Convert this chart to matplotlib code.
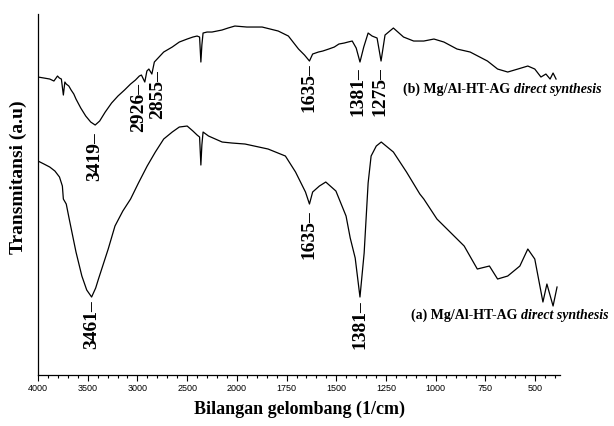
import matplotlib
matplotlib.use('Agg')
import matplotlib.pyplot as plt
import numpy as np

# spectrum (b): wavenumber (1/cm) and transmittance (a.u)
wn_b = [4000, 3940, 3882, 3840, 3804, 3785, 3765, 3745, 3730, 3716, 3690, 3667,
        3640, 3618, 3570, 3520, 3470, 3425, 3380, 3324, 3260, 3196, 3130, 3069,
        3020, 2981, 2960, 2926, 2905, 2885, 2855, 2830, 2736, 2650, 2579, 2500,
        2442, 2400, 2375, 2362, 2352, 2340, 2300, 2250, 2150, 2089, 2020,
        1950, 1873, 1792, 1741, 1690, 1660, 1635, 1619, 1590, 1568, 1538, 1510,
        1487, 1460, 1441, 1420, 1400, 1381, 1362, 1340, 1320, 1295, 1275, 1255,
        1213, 1162, 1111, 1060, 1009, 959, 893, 827, 740, 689, 638, 587, 537,
        502, 471, 446, 425, 410, 395]
tr_b = [301, 300, 299, 297, 302, 300, 299, 283, 296, 294, 292, 288,
        284, 279, 270, 262, 256, 253, 257, 266, 275, 282, 288, 294,
        298, 302, 303, 296, 307, 309, 304, 316, 326, 331, 336, 339,
        341, 342, 341, 316, 333, 345, 346, 346, 348, 350, 352,
        351, 351, 347, 342, 329, 323, 317, 324, 326, 327, 329, 331,
        334, 335, 336, 337, 330, 316, 331, 345, 342, 340, 317, 343,
        350, 341, 337, 337, 339, 336, 329, 326, 317, 309, 306, 309, 312,
        309, 301, 304, 299, 305, 299]

# spectrum (a)
wn_a = [4000, 3940, 3882, 3830, 3784, 3755, 3745, 3716, 3686, 3618, 3559, 3510,
        3461, 3420, 3392, 3294, 3226, 3147, 3069, 2990, 2902, 2820, 2736, 2650,
        2579, 2500, 2442, 2400, 2375, 2362, 2352, 2340, 2285, 2148, 2050,
        1959, 1843, 1756, 1705, 1655, 1635, 1619, 1585, 1553, 1502, 1451, 1430,
        1405, 1381, 1360, 1340, 1325, 1299, 1274, 1213, 1147, 1080, 1060, 994,
        928, 857, 791, 730, 689, 638, 577, 537, 502, 461, 441, 410, 390]
tr_a = [217, 214, 211, 207, 201, 192, 179, 174, 159, 126, 102, 88,
        81, 90, 99, 129, 152, 167, 179, 195, 212, 226, 239, 246,
        251, 252, 247, 243, 241, 213, 233, 246, 242, 236, 235,
        234, 229, 222, 206, 186, 174, 186, 192, 196, 187, 162, 140,
        120, 81, 125, 195, 222, 232, 236, 226, 206, 184, 179, 159,
        146, 132, 109, 112, 99, 102, 112, 129, 119, 76, 94, 72, 91]

major_ticks = [4000, 3500, 3000, 2500, 2000, 1750, 1500, 1250, 1000, 750, 500]

# peak labels: text, anchor wavenumber, anchor height (top of label)
peaks_b = [('3419', 3425, 247), ('2926', 2990, 296), ('2855', 2800, 309),
           ('1635', 1640, 316), ('1381', 1390, 312), ('1275', 1280, 312)]
peaks_a = [('3461', 3461, 79), ('1635', 1640, 169), ('1381', 1381, 79)]


def forward(w):
    w = np.asarray(w, dtype=float)
    return np.where(w >= 2000, w / 500.0, w / 250.0 - 4.0)


def inverse(u):
    u = np.asarray(u, dtype=float)
    return np.where(u >= 4, u * 500.0, (u + 4.0) * 250.0)


serif = 'Liberation Serif'

fig = plt.figure(figsize=(6.14, 4.27), dpi=100)
ax = fig.add_axes([0.0619, 0.1194, 0.8502, 0.8454])
ax.set_xscale('function', functions=(forward, inverse))

ax.plot(wn_b, tr_b, color='black', lw=0.9)
ax.plot(wn_a, tr_a, color='black', lw=0.9)

ax.set_xlim(4000, 375)
ax.set_ylim(3, 364)

ax.set_xticks(major_ticks)
ax.set_xticklabels([str(t) for t in major_ticks], fontsize=6.5,
                   family='Liberation Sans')
minor = list(range(3900, 2000, -100)) + list(range(1950, 399, -50))
ax.set_xticks([m for m in minor if m not in major_ticks], minor=True)
ax.tick_params(axis='x', which='major', direction='out', length=4,
               width=0.8, pad=1.5)
ax.tick_params(axis='x', which='minor', direction='out', length=2.5,
               width=0.8)
ax.set_yticks([])
for s in ['top', 'right']:
    ax.spines[s].set_visible(False)
ax.spines['left'].set_linewidth(0.9)
ax.spines['bottom'].set_linewidth(0.9)

ax.set_xlabel('Bilangan gelombang (1/cm)', family=serif, fontweight='bold',
              fontsize=13, labelpad=6)
ax.set_ylabel('Transmitansi (a.u)', family=serif, fontweight='bold',
              fontsize=14)
ax.yaxis.set_label_coords(-0.022, 0.55)

for txt, w, h in peaks_b + peaks_a:
    ax.text(w, h, txt + '\u2013', rotation=90, ha='center', va='top',
            family=serif, fontweight='bold', fontsize=14, clip_on=False)

for lab, w, h in [('(b) Mg/Al-HT-AG', 1165, 286), ('(a) Mg/Al-HT-AG', 1125, 60)]:
    t = ax.text(w, h, lab, ha='left', va='baseline', family=serif,
                fontweight='bold', fontsize=10, clip_on=False)
    ax.annotate('direct synthesis', xy=(1, h), xycoords=(t, 'data'),
                xytext=(3, 0), textcoords='offset points', va='baseline',
                ha='left', family=serif, fontweight='bold', style='italic',
                fontsize=10, annotation_clip=False)

plt.savefig('out.png', dpi=100)
plt.close()
